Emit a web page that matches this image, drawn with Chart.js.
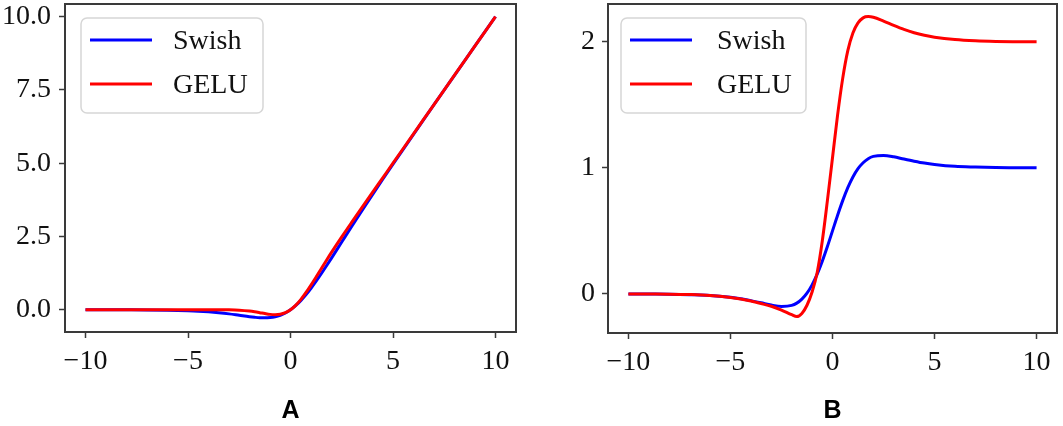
<!DOCTYPE html>
<html><head><meta charset="utf-8">
<script src="https://cdn.jsdelivr.net/npm/chart.js@4.4.1/dist/chart.umd.min.js"></script>
<style>
html,body{margin:0;padding:0;background:#fff;width:1063px;height:426px;overflow:hidden}
#wa{position:absolute;left:0;top:0;width:530px;height:426px}
#wb{position:absolute;left:530px;top:0;width:533px;height:426px}
</style></head><body>
<div id="wa"><canvas id="ca"></canvas></div>
<div id="wb"><canvas id="cb"></canvas></div>
<script>
const seriesNames = ['Swish', 'GELU'];
const panelLabels = ['A', 'B'];
const xValues = [-10,-9,-8,-7,-6,-5,-4.5,-4,-3.5,-3,-2.5,-2,-1.75,-1.5,-1.25,-1,-0.75,-0.5,-0.25,0,0.25,0.5,0.75,1,1.25,1.5,1.75,2,2.5,3,3.5,4,4.5,5,6,7,8,9,10];
// Panel A: activation values
const swishA = [0,-0.001,-0.003,-0.006,-0.015,-0.034,-0.049,-0.072,-0.103,-0.142,-0.19,-0.238,-0.258,-0.274,-0.278,-0.269,-0.241,-0.189,-0.11,0,0.14,0.311,0.509,0.731,0.972,1.226,1.492,1.762,2.31,2.858,3.398,3.928,4.451,4.967,5.985,6.994,7.997,8.999,10];
const geluA = [0,0,0,0,0,0,0,0,-0.001,-0.004,-0.016,-0.046,-0.07,-0.1,-0.132,-0.159,-0.17,-0.154,-0.1,0,0.15,0.346,0.58,0.841,1.118,1.4,1.68,1.955,2.485,2.996,3.499,4,4.5,5,6,7,8,9,10];
// Panel B: derivative values
const swishB = [0,-0.001,-0.002,-0.006,-0.012,-0.027,-0.038,-0.053,-0.07,-0.088,-0.099,-0.091,-0.073,-0.041,0.006,0.072,0.157,0.26,0.376,0.5,0.624,0.74,0.843,0.928,0.994,1.041,1.073,1.091,1.099,1.088,1.07,1.053,1.038,1.027,1.012,1.006,1.002,1.001,1];
const geluB = [0,-0.001,-0.002,-0.005,-0.012,-0.028,-0.04,-0.056,-0.076,-0.098,-0.128,-0.165,-0.18,-0.155,-0.09,0.015,0.17,0.42,0.74,1.08,1.42,1.71,1.93,2.07,2.15,2.19,2.2,2.195,2.165,2.13,2.098,2.072,2.052,2.037,2.018,2.008,2.003,2.001,2];
const xTicks = [-10, -5, 0, 5, 10];
const yTicksA = [0, 2.5, 5, 7.5, 10];
const yTicksB = [0, 1, 2];
const seriesColors = ['#0000ff', '#ff0000'];

const SERIF = "'Liberation Serif', 'Times New Roman', serif";
const FRAME = '#3a3a3a';

function pts(ys) { return xValues.map((x, i) => ({x: x, y: ys[i]})); }
function fmtX(v) { return v < 0 ? '\u2212' + Math.abs(v) : String(v); }

const framePlugin = {
  id: 'frame',
  afterDatasetsDraw(chart) {
    const a = chart.chartArea, ctx = chart.ctx;
    ctx.save();
    ctx.strokeStyle = FRAME;
    ctx.lineWidth = 2;
    ctx.strokeRect(a.left, a.top, a.right - a.left, a.bottom - a.top);
    ctx.restore();
  }
};

const legendPlugin = {
  id: 'mplLegend',
  afterDraw(chart, args, opts) {
    const a = chart.chartArea, ctx = chart.ctx;
    const bx = a.left + opts.dx, by = a.top + 14, bw = opts.w, bh = 95, r = 6;
    ctx.save();
    ctx.beginPath();
    ctx.moveTo(bx + r, by);
    ctx.arcTo(bx + bw, by, bx + bw, by + bh, r);
    ctx.arcTo(bx + bw, by + bh, bx, by + bh, r);
    ctx.arcTo(bx, by + bh, bx, by, r);
    ctx.arcTo(bx, by, bx + bw, by, r);
    ctx.closePath();
    ctx.fillStyle = 'rgba(255,255,255,0.85)';
    ctx.fill();
    ctx.strokeStyle = '#d6d6d6';
    ctx.lineWidth = 1.5;
    ctx.stroke();
    chart.data.datasets.forEach((ds, i) => {
      const ly = by + 22 + i * 44;
      ctx.beginPath();
      ctx.moveTo(bx + 9, ly);
      ctx.lineTo(bx + 71, ly);
      ctx.strokeStyle = ds.borderColor;
      ctx.lineWidth = 3;
      ctx.stroke();
      ctx.fillStyle = '#111';
      ctx.font = '28px ' + SERIF;
      ctx.textBaseline = 'middle';
      ctx.textAlign = 'left';
      ctx.fillText(ds.label, bx + opts.tx, ly + 2);
    });
    ctx.restore();
  }
};

function noPad(s) { s.paddingTop = 0; s.paddingBottom = 0; s.paddingLeft = 0; s.paddingRight = 0; }

function makeChart(id, ysList, yTicks, yMin, yMax, fmtY, leftW, xH, padRight, title, legOpts, yPad) {
  return new Chart(document.getElementById(id), {
    type: 'line',
    data: {
      datasets: ysList.map((ys, i) => ({
        label: seriesNames[i],
        data: pts(ys),
        order: ysList.length - i,
        borderColor: seriesColors[i],
        backgroundColor: seriesColors[i],
        borderWidth: 3,
        pointRadius: 0,
        cubicInterpolationMode: 'monotone',
        fill: false
      }))
    },
    plugins: [framePlugin, legendPlugin],
    options: {
      responsive: true,
      maintainAspectRatio: false,
      animation: false,
      layout: {padding: {top: 4, right: padRight, left: 0, bottom: 0}},
      plugins: {legend: {display: false}, tooltip: {enabled: false}, mplLegend: legOpts},
      scales: {
        x: {
          type: 'linear', min: -11, max: 11,
          afterBuildTicks: s => { s.ticks = xTicks.map(v => ({value: v})); },
          afterFit: s => { s.height = xH; noPad(s); },
          grid: {display: true, drawOnChartArea: false, drawTicks: true, tickLength: 6, tickWidth: 1.5, tickColor: FRAME},
          border: {display: false},
          ticks: {font: {family: SERIF, size: 28}, color: '#111', padding: 7, maxRotation: 0, autoSkip: false, callback: fmtX},
          title: {display: true, text: title, color: '#000', font: {family: "'Liberation Sans', Arial, sans-serif", size: 25, weight: 'bold'}, padding: {top: 0, bottom: 0}}
        },
        y: {
          type: 'linear', min: yMin, max: yMax,
          afterBuildTicks: s => { s.ticks = yTicks.map(v => ({value: v})); },
          afterFit: s => { s.width = leftW; noPad(s); },
          grid: {display: true, drawOnChartArea: false, drawTicks: true, tickLength: 6, tickWidth: 1.5, tickColor: FRAME},
          border: {display: false},
          ticks: {font: {family: SERIF, size: 28}, color: '#111', padding: yPad, autoSkip: false, callback: fmtY}
        }
      }
    }
  });
}

makeChart('ca', [swishA, geluA], yTicksA, -0.76, 10.43, v => v.toFixed(1), 65, 94, 14, panelLabels[0], {dx: 16, w: 182, tx: 92}, 8);
makeChart('cb', [swishB, geluB], yTicksB, -0.31, 2.30, v => String(v), 78, 93, 6, panelLabels[1], {dx: 13, w: 185, tx: 96}, 7);
</script>
</body></html>
